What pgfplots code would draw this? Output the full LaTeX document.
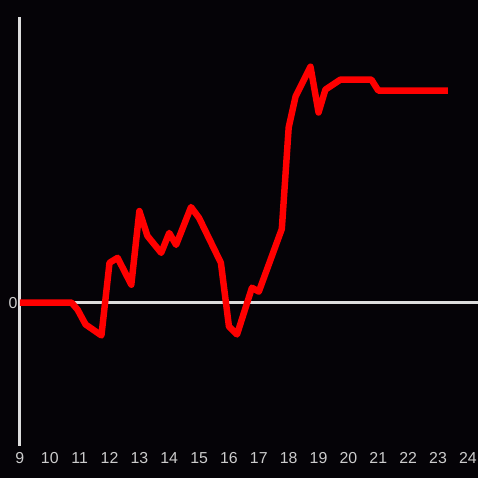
\documentclass[border=0pt]{standalone}
\usepackage{fontspec}
\setmainfont{Liberation Sans}
\usepackage{pgfplots}
\pgfplotsset{compat=1.18}
\definecolor{bg}{HTML}{050307}
\definecolor{axisgray}{HTML}{DDDDDD}
\definecolor{labelgray}{HTML}{CCCCCC}
\begin{document}
\begin{tikzpicture}
\fill[bg] (0,0) rectangle (480bp,480bp);
\begin{axis}[
  at={(20bp,32bp)}, anchor=south west,
  scale only axis,
  width=460bp, height=431bp,
  xmin=9, xmax=24.3333,
  ymin=-144, ymax=287,
  axis lines*=left,
  x axis line style={draw=none},
  y axis line style={draw=axisgray, line width=3bp, -},
  xtick={9,10,...,24},
  ytick={0},
  major tick length=0pt,
  ymajorgrids=true,
  grid style={axisgray, line width=3bp},
  /pgf/number format/assume math mode=true,
  tick label style={font=\fontsize{16}{18}\selectfont, text=labelgray},
  xticklabel style={yshift=-3bp},
  yticklabel style={xshift=1bp},
  clip=false,
]
\addplot[color=red, line width=6.5bp, line join=round] coordinates {
  (9.0,0) (10.73,0) (10.93,-7) (11.2,-22) (11.73,-33)
  (12.0,40) (12.27,45) (12.73,18) (13.0,92) (13.27,67)
  (13.73,50) (14.0,70) (14.23,58) (14.73,96) (15.0,85)
  (15.73,40) (16.0,-24) (16.27,-32) (16.77,15) (17.0,11)
  (17.77,74) (18.0,176) (18.23,207) (18.73,237) (19.0,191)
  (19.23,214) (19.73,224) (20.77,224) (21.0,213) (23.33,213)
};
\end{axis}
\end{tikzpicture}
\end{document}
